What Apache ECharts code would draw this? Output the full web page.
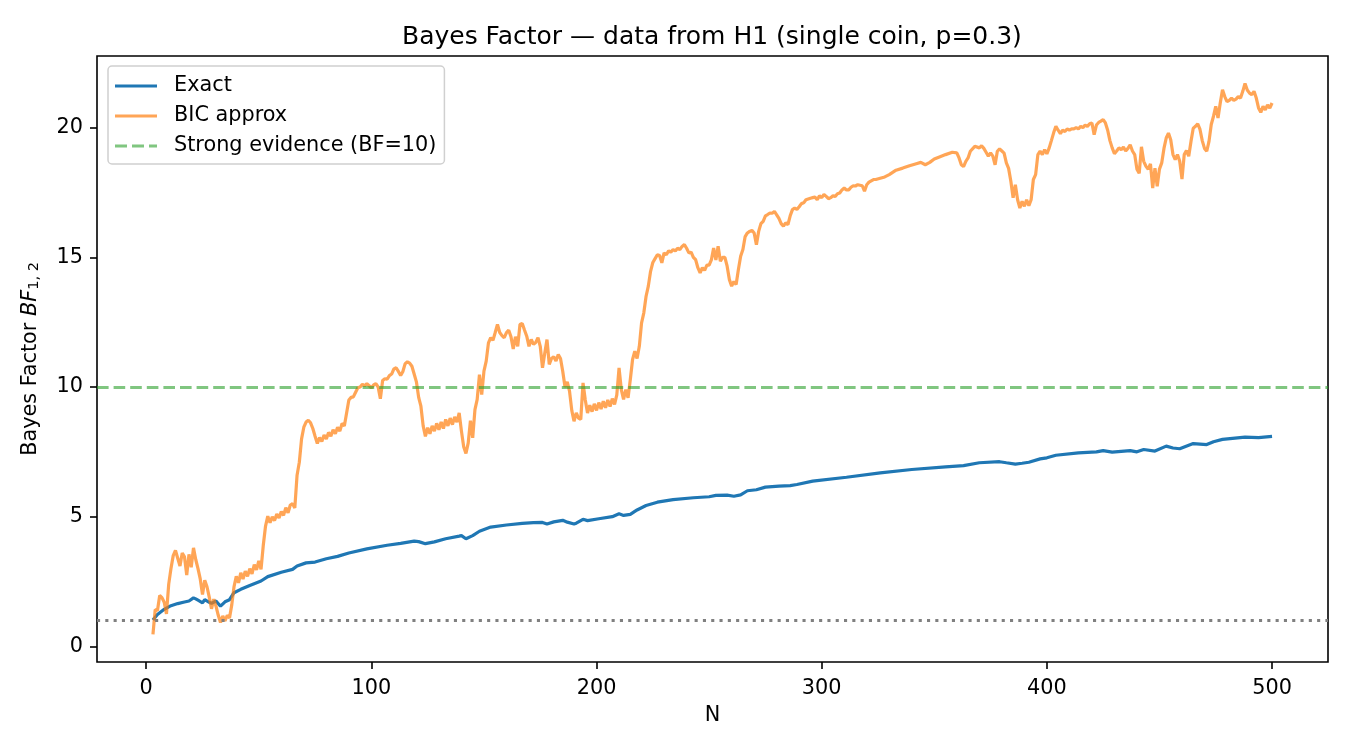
<!DOCTYPE html>
<html>
<head>
<meta charset="utf-8">
<title>Bayes Factor</title>
<script src="https://cdn.jsdelivr.net/npm/echarts@6/dist/echarts.min.js"></script>
<style>
  html, body { margin: 0; padding: 0; background: #fff; }
  #chart { width: 1350px; height: 750px; }
</style>
</head>
<body>
<div id="chart"></div>
<script>
// values: [N, BF]
var exactPoints = [
  [3,1.02],[5,1.23],[8,1.43],[11,1.57],[14,1.65],[17,1.71],[19,1.75],[21,1.87],[22,1.83],[23,1.78],
  [25,1.68],[26,1.8],[28,1.7],[29,1.66],[31,1.75],[33,1.55],[35,1.72],[37,1.8],[39,2.07],[42,2.2],
  [46,2.35],[51,2.52],[54,2.69],[60,2.86],[65,2.97],[67,3.1],[71,3.22],[75,3.25],[80,3.38],[85,3.47],
  [90,3.6],[98,3.76],[107,3.9],[113,3.97],[119,4.06],[121,4.04],[124,3.96],[128,4.03],[133,4.15],[139,4.25],
  [140,4.27],[142,4.15],[145,4.27],[148,4.44],[153,4.6],[160,4.68],[167,4.74],[172,4.77],[176,4.78],[178,4.72],
  [181,4.8],[185,4.86],[187,4.79],[190,4.72],[191,4.75],[194,4.9],[196,4.85],[201,4.92],[207,5.0],[210,5.11],
  [212,5.05],[215,5.09],[218,5.26],[222,5.43],[227,5.56],[234,5.66],[243,5.73],[250,5.77],[253,5.82],[258,5.83],
  [261,5.79],[264,5.84],[267,6.0],[271,6.04],[275,6.14],[281,6.18],[286,6.2],[289,6.24],[296,6.37],[311,6.52],
  [326,6.69],[340,6.82],[355,6.92],[363,6.97],[370,7.08],[379,7.12],[382,7.08],[386,7.03],[389,7.06],[392,7.1],
  [397,7.23],[400,7.27],[404,7.37],[414,7.46],[422,7.5],[425,7.55],[429,7.49],[437,7.55],[440,7.5],[443,7.59],
  [448,7.53],[453,7.72],[456,7.65],[459,7.62],[465,7.82],[471,7.78],[474,7.89],[478,7.98],[488,8.07],[494,8.05],
  [500,8.1]
];
var bicPoints = [
  [3,0.46],[4,1.42],[5,1.38],[6,1.96],[7,1.88],[8,1.7],[9,1.25],[10,2.4],[11,3.0],[12,3.5],
  [13,3.7],[14,3.4],[15,3.1],[16,3.6],[17,3.45],[18,2.75],[19,3.55],[20,3.05],[21,3.8],[22,3.35],
  [23,3.0],[24,2.6],[25,2.0],[26,2.55],[27,2.3],[28,1.9],[29,1.45],[30,1.82],[31,1.55],[32,1.2],
  [33,0.92],[34,1.17],[35,0.98],[36,1.2],[37,1.1],[38,1.6],[39,2.3],[40,2.7],[41,2.45],[42,2.84],
  [43,2.6],[44,2.9],[45,2.7],[46,3.0],[47,2.8],[48,3.15],[49,2.95],[50,3.3],[51,2.97],[52,3.9],
  [53,4.64],[54,5.02],[55,4.77],[56,5.0],[57,4.85],[58,5.1],[59,4.95],[60,5.2],[61,5.05],[62,5.35],
  [63,5.15],[64,5.45],[65,5.5],[66,5.34],[67,6.6],[68,7.1],[69,8.0],[70,8.45],[71,8.65],[72,8.72],
  [73,8.62],[74,8.4],[75,8.1],[76,7.82],[77,8.05],[78,7.9],[79,8.15],[80,8.0],[81,8.25],[82,8.1],
  [83,8.35],[84,8.2],[85,8.45],[86,8.3],[87,8.6],[88,8.5],[89,9.0],[90,9.5],[91,9.6],[92,9.62],
  [93,9.8],[94,9.97],[95,10.0],[96,10.1],[97,10.05],[98,10.13],[99,10.05],[100,9.97],[101,10.08],[102,10.13],
  [103,10.0],[104,9.55],[105,10.25],[106,10.32],[107,10.3],[108,10.44],[109,10.5],[110,10.7],[111,10.74],[112,10.6],
  [113,10.44],[114,10.6],[115,10.9],[116,10.97],[117,10.92],[118,10.8],[119,10.5],[120,10.2],[121,9.6],[122,9.26],
  [123,8.5],[124,8.1],[125,8.43],[126,8.2],[127,8.5],[128,8.3],[129,8.6],[130,8.35],[131,8.65],[132,8.4],
  [133,8.75],[134,8.5],[135,8.8],[136,8.55],[137,8.85],[138,8.65],[139,9.0],[140,8.3],[141,7.7],[142,7.44],
  [143,7.84],[144,8.7],[145,8.04],[146,9.13],[147,9.52],[148,10.48],[149,9.71],[150,10.61],[151,11.0],[152,11.7],
  [153,11.9],[154,11.8],[155,12.1],[156,12.41],[157,12.1],[158,11.98],[159,11.9],[160,12.1],[161,12.19],[162,11.94],
  [163,11.47],[164,11.94],[165,11.57],[166,12.41],[167,12.45],[168,12.2],[169,11.96],[170,11.57],[171,11.83],[172,11.65],
  [173,11.72],[174,11.9],[175,11.57],[176,10.74],[177,11.3],[178,11.83],[179,10.87],[180,11.1],[181,11.17],[182,11.0],
  [183,11.25],[184,11.1],[185,10.6],[186,10.0],[187,10.2],[188,9.84],[189,9.1],[190,8.68],[191,9.0],[192,8.8],
  [193,8.75],[194,10.16],[195,9.5],[196,9.0],[197,9.3],[198,9.05],[199,9.35],[200,9.1],[201,9.4],[202,9.15],
  [203,9.45],[204,9.2],[205,9.5],[206,9.25],[207,9.55],[208,9.33],[209,9.7],[210,10.74],[211,9.9],[212,9.52],
  [213,9.9],[214,9.58],[215,10.29],[216,11.06],[217,11.38],[218,11.1],[219,11.57],[220,12.47],[221,12.86],[222,13.5],
  [223,13.89],[224,14.46],[225,14.8],[226,14.95],[227,15.1],[228,15.07],[229,14.79],[230,15.17],[231,15.1],[232,15.25],
  [233,15.2],[234,15.3],[235,15.25],[236,15.35],[237,15.3],[238,15.42],[239,15.49],[240,15.35],[241,15.17],[242,15.2],
  [243,15.0],[244,14.91],[245,14.6],[246,14.4],[247,14.6],[248,14.5],[249,14.7],[250,14.7],[251,14.9],[252,15.36],
  [253,14.9],[254,15.43],[255,14.85],[256,15.0],[257,15.0],[258,14.66],[259,14.14],[260,13.89],[261,14.07],[262,13.95],
  [263,14.53],[264,15.04],[265,15.3],[266,15.8],[267,15.94],[268,16.0],[269,16.04],[270,15.94],[271,15.49],[272,16.0],
  [273,16.3],[274,16.39],[275,16.6],[276,16.65],[277,16.71],[278,16.7],[279,16.77],[280,16.64],[281,16.5],[282,16.3],
  [283,16.2],[284,16.33],[285,16.26],[286,16.6],[287,16.84],[288,16.9],[289,16.85],[290,16.95],[291,17.07],[292,17.1],
  [293,17.22],[294,17.25],[295,17.28],[296,17.3],[297,17.32],[298,17.22],[299,17.37],[300,17.3],[301,17.42],[302,17.35],
  [303,17.26],[304,17.3],[305,17.37],[306,17.35],[307,17.45],[308,17.48],[309,17.6],[310,17.67],[311,17.6],[312,17.6],
  [313,17.7],[314,17.76],[315,17.75],[316,17.8],[317,17.78],[318,17.76],[319,17.55],[320,17.8],[321,17.9],[322,17.95],
  [323,18.0],[324,18.0],[326,18.05],[328,18.1],[330,18.19],[333,18.36],[336,18.44],[339,18.53],[342,18.61],[344,18.66],
  [346,18.57],[348,18.66],[350,18.79],[352,18.86],[355,18.96],[358,19.05],[360,19.03],[361,18.83],[362,18.57],[363,18.5],
  [364,18.7],[365,18.83],[366,19.09],[368,19.28],[370,19.22],[371,19.3],[372,19.2],[373,19.05],[374,18.9],[375,19.02],
  [376,18.9],[377,18.57],[378,19.09],[379,19.18],[380,19.1],[381,19.02],[382,18.64],[383,18.43],[384,17.93],[385,17.3],
  [386,17.8],[387,17.22],[388,16.9],[389,17.16],[390,16.97],[391,17.22],[392,16.99],[393,17.22],[394,18.0],[395,18.19],
  [396,18.96],[397,19.09],[398,18.96],[399,19.15],[400,18.99],[401,19.21],[402,19.5],[403,19.8],[404,20.05],[405,19.9],
  [406,19.77],[407,19.9],[408,19.85],[409,19.95],[410,19.9],[411,19.95],[412,19.95],[413,20.0],[414,19.95],[415,20.05],
  [416,20.0],[417,20.1],[418,20.05],[419,20.15],[420,20.18],[421,19.73],[422,20.1],[423,20.2],[424,20.25],[425,20.31],
  [426,20.18],[427,19.9],[428,19.5],[429,19.22],[430,19.0],[431,19.1],[432,19.22],[433,19.15],[434,19.25],[435,19.1],
  [436,19.2],[437,19.34],[438,19.1],[439,18.96],[440,18.4],[441,18.24],[442,19.26],[443,18.7],[444,18.51],[445,18.4],
  [446,18.6],[447,17.67],[448,18.44],[449,17.74],[450,18.4],[451,18.64],[452,19.2],[453,19.6],[454,19.79],[455,19.53],
  [456,18.96],[457,18.77],[458,18.96],[459,18.7],[460,18.02],[461,18.96],[462,19.12],[463,18.9],[464,19.47],[465,19.98],
  [466,20.05],[467,20.15],[468,19.93],[469,19.5],[470,19.2],[471,19.09],[472,19.47],[473,20.12],[474,20.44],[475,20.82],
  [476,20.37],[477,20.95],[478,21.46],[479,21.2],[480,21.0],[481,21.05],[482,21.14],[483,21.05],[484,21.1],[485,21.2],
  [486,21.14],[487,21.4],[488,21.7],[489,21.45],[490,21.33],[491,21.27],[492,21.4],[493,21.14],[494,20.76],[495,20.59],
  [496,20.82],[497,20.69],[498,20.88],[499,20.75],[500,20.95]
];
var strongLevel = 10;
var neutralLevel = 1;
var xTicks = [0, 100, 200, 300, 400, 500];
var yTicks = [0, 5, 10, 15, 20];

var font = 'DejaVu Sans';
var chart = echarts.init(document.getElementById('chart'), null, {renderer: 'canvas'});

// matplotlib style 5% margins
function extent(list, idx) {
  var lo = Infinity, hi = -Infinity;
  list.forEach(function (p) {
    lo = Math.min(lo, p[idx]);
    hi = Math.max(hi, p[idx]);
  });
  var pad = (hi - lo) * 0.05;
  return [lo - pad, hi + pad];
}
var all = exactPoints.concat(bicPoints);
var xr = extent(all, 0);
var yr = extent(all, 1);

// legend handles: plain bar, and three dashes for the dashed line
var solidIcon = 'path://M0,0h42v3h-42z';
var dashIcon = 'path://M0,0h12v3h-12z M17,0h12v3h-12z M34,0h8v3h-8z';

var option = {
  animation: false,
  backgroundColor: '#fff',
  title: {
    text: 'Bayes Factor — data from H1 (single coin, p=0.3)',
    left: 402,
    top: 25,
    padding: 0,
    textStyle: {fontFamily: font, fontSize: 25, fontWeight: 'normal', color: '#000'}
  },
  legend: {
    orient: 'vertical',
    left: 108,
    top: 66,
    padding: [9, 8, 7, 7],
    itemWidth: 42,
    itemHeight: 3,
    itemGap: 8,
    backgroundColor: '#fff',
    borderColor: '#d0d0d0',
    borderWidth: 1.5,
    borderRadius: 4,
    textStyle: {fontFamily: font, fontSize: 20.8, color: '#000', lineHeight: 22, padding: [0, 0, 0, 12]},
    data: [
      {name: 'Exact', icon: solidIcon},
      {name: 'BIC approx', icon: solidIcon},
      {name: 'Strong evidence (BF=10)', icon: dashIcon}
    ]
  },
  grid: {
    left: 97,
    right: 22,
    top: 56,
    bottom: 88,
    show: true,
    borderColor: '#000',
    borderWidth: 1.6,
    backgroundColor: 'transparent'
  },
  xAxis: {
    type: 'value',
    min: xr[0],
    max: xr[1],
    name: 'N',
    nameLocation: 'middle',
    nameGap: 43,
    nameTextStyle: {fontFamily: font, fontSize: 20.8, color: '#000'},
    axisLine: {show: false, onZero: false},
    axisTick: {show: true, customValues: xTicks, length: 7, lineStyle: {color: '#000', width: 1.6}},
    axisLabel: {customValues: xTicks, margin: 16, fontFamily: font, fontSize: 20.8, color: '#000'},
    splitLine: {show: false}
  },
  yAxis: {
    type: 'value',
    min: yr[0],
    max: yr[1],
    name: '{n|Bayes Factor }{i|BF}{s|1, 2}',
    nameLocation: 'middle',
    nameRotate: 90,
    nameGap: 55,
    nameTextStyle: {
      rich: {
        n: {fontFamily: font, fontSize: 20.8, color: '#000'},
        i: {fontFamily: font, fontSize: 20.8, fontStyle: 'italic', color: '#000'},
        s: {fontFamily: font, fontSize: 14.5, color: '#000', verticalAlign: 'bottom', padding: [8, 0, 0, 0]}
      }
    },
    axisLine: {show: false, onZero: false},
    axisTick: {show: true, customValues: yTicks, length: 7, lineStyle: {color: '#000', width: 1.6}},
    axisLabel: {customValues: yTicks, margin: 14, fontFamily: font, fontSize: 20.8, color: '#000'},
    splitLine: {show: false}
  },
  series: [
    {
      name: 'Exact',
      type: 'line',
      data: exactPoints,
      symbol: 'none',
      color: '#1f77b4',
      lineStyle: {color: '#1f77b4', width: 3.2},
      z: 3
    },
    {
      name: 'BIC approx',
      type: 'line',
      data: bicPoints,
      symbol: 'none',
      color: 'rgba(255,127,14,0.7)',
      lineStyle: {color: 'rgba(255,127,14,0.7)', width: 3.2},
      z: 4
    },
    {
      name: 'Strong evidence (BF=10)',
      type: 'line',
      data: [],
      symbol: 'none',
      color: 'rgba(44,160,44,0.6)',
      lineStyle: {color: 'rgba(44,160,44,0.6)', width: 3.1, type: [11, 5]},
      markLine: {
        silent: true,
        symbol: 'none',
        label: {show: false},
        lineStyle: {color: 'rgba(44,160,44,0.6)', width: 3.1, type: [11.6, 5], cap: 'butt'},
        data: [{yAxis: strongLevel}]
      },
      z: 5
    },
    {
      name: 'neutral',
      type: 'line',
      data: [],
      symbol: 'none',
      markLine: {
        silent: true,
        symbol: 'none',
        label: {show: false},
        lineStyle: {color: '#808080', width: 3.1, type: [3.1, 5.2], cap: 'butt'},
        data: [{yAxis: neutralLevel}]
      },
      z: 5
    }
  ]
};
chart.setOption(option);
</script>
</body>
</html>
